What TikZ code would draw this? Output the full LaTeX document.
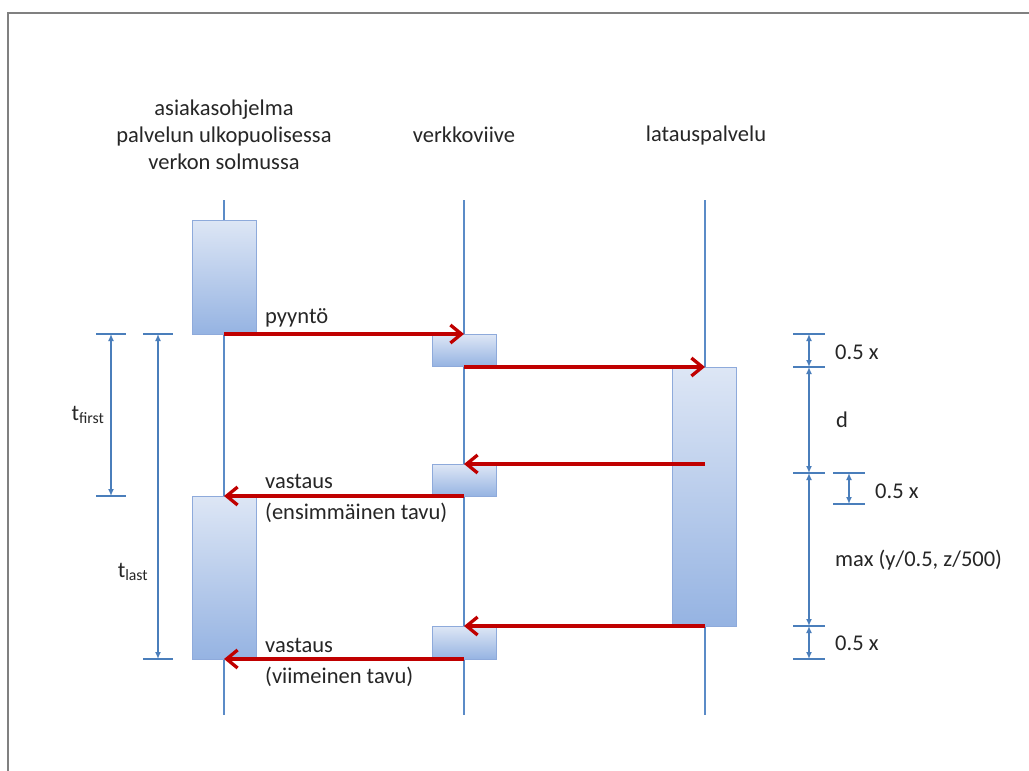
\documentclass[tikz,border=0pt]{standalone}
\usepackage{fontspec}
\setmainfont{Carlito}
\usetikzlibrary{arrows.meta}
\definecolor{life}{HTML}{5B8BC7}
\definecolor{boxtop}{HTML}{DDE6F5}
\definecolor{boxbot}{HTML}{95B3E2}
\definecolor{boxline}{HTML}{8EAADB}
\definecolor{msg}{HTML}{C00000}
\definecolor{dimc}{HTML}{4A7EBB}
\definecolor{framec}{HTML}{808080}
\begin{document}
\begin{tikzpicture}[x=1pt,y=-1pt,
  lbl/.style={font=\fontsize{22.5}{27}\selectfont, text=black!85, inner sep=0pt},
  act/.style={draw=boxline, line width=1pt, top color=boxtop, bottom color=boxbot, inner sep=0pt, minimum width=64pt, anchor=north},
  lifeline/.style={draw=life, line width=1.2pt},
  msgarrow/.style={draw=msg, line width=3.5pt, -{Straight Barb[length=11pt,width=18pt,line width=3.3pt]}},
  dimline/.style={draw=dimc, line width=1.5pt, {Latex[length=7pt,width=6pt]}-{Latex[length=7pt,width=6pt]}},
  tick/.style={draw=dimc, line width=1.5pt}
]
\useasboundingbox (0,0) rectangle (1029,771);
\fill[white] (0,0) rectangle (1029,771);
\draw[framec, line width=2.5pt] (8,771) -- (8,13) -- (1029,13);

% headers
\node[lbl, align=center] (hc) at (224,135) {asiakasohjelma\\palvelun ulkopuolisessa\\verkon solmussa};
\node[lbl] (hv) at (464,135) {verkkoviive};
\node[lbl] (hl) at (706,135) {latauspalvelu};

% lifelines
\coordinate (ct) at (224,200); \coordinate (cb) at (224,715);
\coordinate (vt) at (464,200); \coordinate (vb) at (464,715);
\coordinate (lt) at (705,200); \coordinate (lb) at (705,715);
\draw[lifeline] (ct) -- (cb);
\draw[lifeline] (vt) -- (vb);
\draw[lifeline] (lt) -- (lb);

% activation boxes
\node[act, minimum height=114pt] (c1) at (224,220) {};
\node[act, minimum height=32pt] (v1) at (464,334) {};
\node[act, minimum height=259pt] (l1) at (704.5,367) {};
\node[act, minimum height=32pt] (v2) at (464,464) {};
\node[act, minimum height=163pt] (c2) at (224,496) {};
\node[act, minimum height=33pt] (v3) at (464,626) {};

% message points
\coordinate (m1s) at (224,334); \coordinate (m1e) at (464,334);
\coordinate (m2s) at (464,367); \coordinate (m2e) at (705,367);
\coordinate (m3s) at (705,464); \coordinate (m3e) at (464,464);
\coordinate (m4s) at (464,496); \coordinate (m4e) at (224,496);
\coordinate (m5s) at (705,626); \coordinate (m5e) at (464,626);
\coordinate (m6s) at (464,659); \coordinate (m6e) at (224,659);
\draw[msgarrow] (m1s) -- (m1e);
\draw[msgarrow] (m2s) -- (m2e);
\draw[msgarrow] (m3s) -- (m3e);
\draw[msgarrow] (m4s) -- (m4e);
\draw[msgarrow] (m5s) -- (m5e);
\draw[msgarrow] (m6s) -- (m6e);

% message labels
\node[lbl, anchor=west] (t1) at (265,318) {pyyntö};
\node[lbl, anchor=west] (t2) at (265,481) {vastaus};
\node[lbl, anchor=west] (t3) at (265,513) {(ensimmäinen tavu)};
\node[lbl, anchor=west] (t4) at (265,645) {vastaus};
\node[lbl, anchor=west] (t5) at (265,677) {(viimeinen tavu)};

% left dimensions
\coordinate (tf1) at (111,334); \coordinate (tf2) at (111,496);
\coordinate (tl1) at (158,334); \coordinate (tl2) at (158,659);
\draw[tick] (96,334) -- (126,334);
\draw[tick] (96,496) -- (126,496);
\draw[tick] (143,334) -- (173,334);
\draw[tick] (143,659) -- (173,659);
\draw[dimline] (tf1) -- (tf2);
\draw[dimline] (tl1) -- (tl2);
\node[lbl] (tfirst) at (88,415) {t\textsubscript{first}};
\node[lbl] (tlast) at (133,572) {t\textsubscript{last}};

% right dimensions
\coordinate (r1) at (809,334); \coordinate (r2) at (809,367);
\coordinate (r3) at (809,473); \coordinate (r4) at (809,626);
\coordinate (r5) at (809,659);
\coordinate (s1) at (849,473); \coordinate (s2) at (849,504);
\foreach \yy in {334,367,473,626,659} \draw[tick] (793,\yy) -- (825,\yy);
\draw[tick] (833,473) -- (865,473);
\draw[tick] (833,504) -- (865,504);
\draw[dimline] (r1) -- (r2);
\draw[dimline] (r2) -- (r3);
\draw[dimline] (r3) -- (r4);
\draw[dimline] (r4) -- (r5);
\draw[dimline] (s1) -- (s2);
\node[lbl, anchor=west] (d1) at (835,352) {0.5 x};
\node[lbl, anchor=west] (d2) at (836,420) {d};
\node[lbl, anchor=west] (d3) at (875,491) {0.5 x};
\node[lbl, anchor=west] (d4) at (835,560) {max (y/0.5, z/500)};
\node[lbl, anchor=west] (d5) at (835,643) {0.5 x};
\end{tikzpicture}
\end{document}
